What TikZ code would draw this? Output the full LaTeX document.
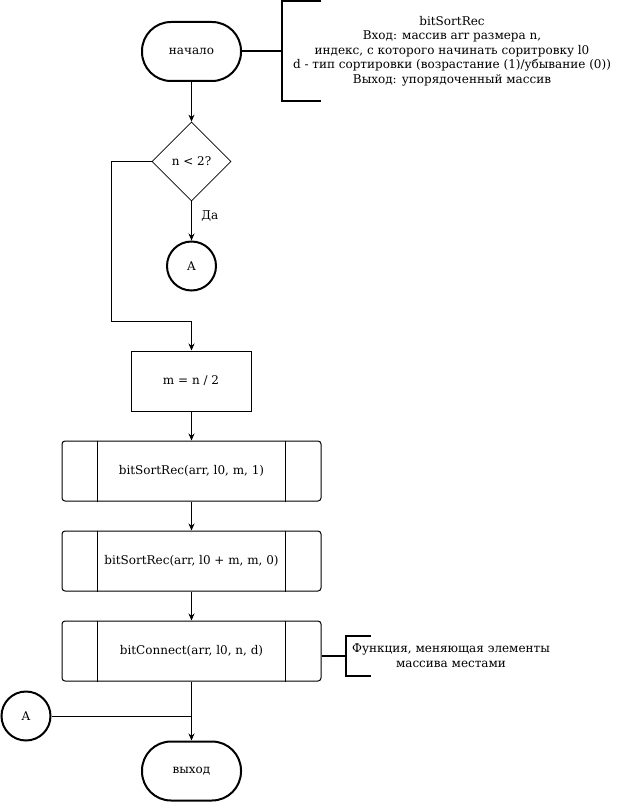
\documentclass[tikz,border=0pt]{standalone}
\usepackage{fontspec}
\setmainfont{DejaVu Serif}
\usetikzlibrary{shapes.geometric,arrows.meta}
\begin{document}
\begin{tikzpicture}[x=1pt,y=-1pt,
  font=\fontsize{12}{14.5}\selectfont,
  conn/.style={line width=1pt},
  arr/.style={line width=1pt,-{Stealth[length=7pt,width=6pt]}},
  thick2/.style={line width=2pt},
  term/.style={draw,line width=2pt,rounded corners=29pt,minimum width=99pt,minimum height=59pt,inner sep=0pt},
  decis/.style={draw,line width=0.7pt,diamond,aspect=1,minimum width=79pt,minimum height=79pt,inner sep=0pt},
  proc/.style={draw,line width=1pt,minimum width=120pt,minimum height=60pt,inner sep=0pt},
  subproc/.style={draw,line width=1pt,rounded corners=3pt,minimum width=259pt,minimum height=60pt,inner sep=0pt},
  conncirc/.style={draw,line width=2pt,circle,minimum size=49pt,inner sep=0pt},
  note/.style={align=center,inner sep=0pt}
]
\useasboundingbox[fill=white] (0,0) rectangle (622,802);

\node[term] (start) at (191.5,51.5) {начало};
\node[decis] (dec) at (191.5,161.5) {n < 2?};
\node[conncirc] (A1) at (191.5,266) {A};
\node[proc] (m) at (191,381) {m = n / 2};
\node[subproc] (s1) at (191.5,471) {bitSortRec(arr, l0, m, 1)};
\node[subproc] (s2) at (191.5,561) {bitSortRec(arr, l0 + m, m, 0)};
\node[subproc] (s3) at (191.5,651) {bitConnect(arr, l0, n, d)};
\node[conncirc] (A2) at (26,716) {A};
\node[term] (end) at (191.5,771) {выход};

% subprocess inner lines
\foreach \s in {s1,s2,s3}{
  \draw[line width=1pt] ([xshift=36pt]\s.north west) -- ([xshift=36pt]\s.south west);
  \draw[line width=1pt] ([xshift=-36pt]\s.north east) -- ([xshift=-36pt]\s.south east);
}

% comment 1
\coordinate (b1t) at (321,1);
\coordinate (b1m) at (282,51.5);
\draw[thick2] (start.east) -- (b1m);
\draw[thick2] (b1t) -- (282,1) -- (282,101) -- (321,101);
\node[note] (c1) at (452,51) {bitSortRec\\Вход: массив arr размера n,\\индекс, с которого начинать соритровку l0\\d - тип сортировки (возрастание (1)/убывание (0))\\Выход: упорядоченный массив};

% comment 2
\coordinate (b2m) at (346,655.5);
\draw[thick2] (s3.east |- b2m) -- (b2m);
\draw[thick2] (371,636) -- (346,636) -- (346,676) -- (371,676);
\node[note] (c2) at (451,655.5) {Функция, меняющая элементы\\массива местами};

% connectors
\draw[arr] (start.south) -- (dec.north);
\draw[arr] (dec.south) -- node[right=6pt,pos=0.38] {Да} (A1.north);
\coordinate (l1) at (111,161.5);
\coordinate (l2) at (111,321);
\draw[arr] (dec.west) -- (l1) -- (l2) -- (191.5,321) -- (m.north -| 191.5,0);
\draw[arr] (m.south -| s1.north) -- (s1.north);
\draw[arr] (s1.south) -- (s2.north);
\draw[arr] (s2.south) -- (s3.north);
\draw[arr] (s3.south) -- (end.north);
\draw[conn] (A2.east) -- (A2.east -| end.north);
\end{tikzpicture}
\end{document}
